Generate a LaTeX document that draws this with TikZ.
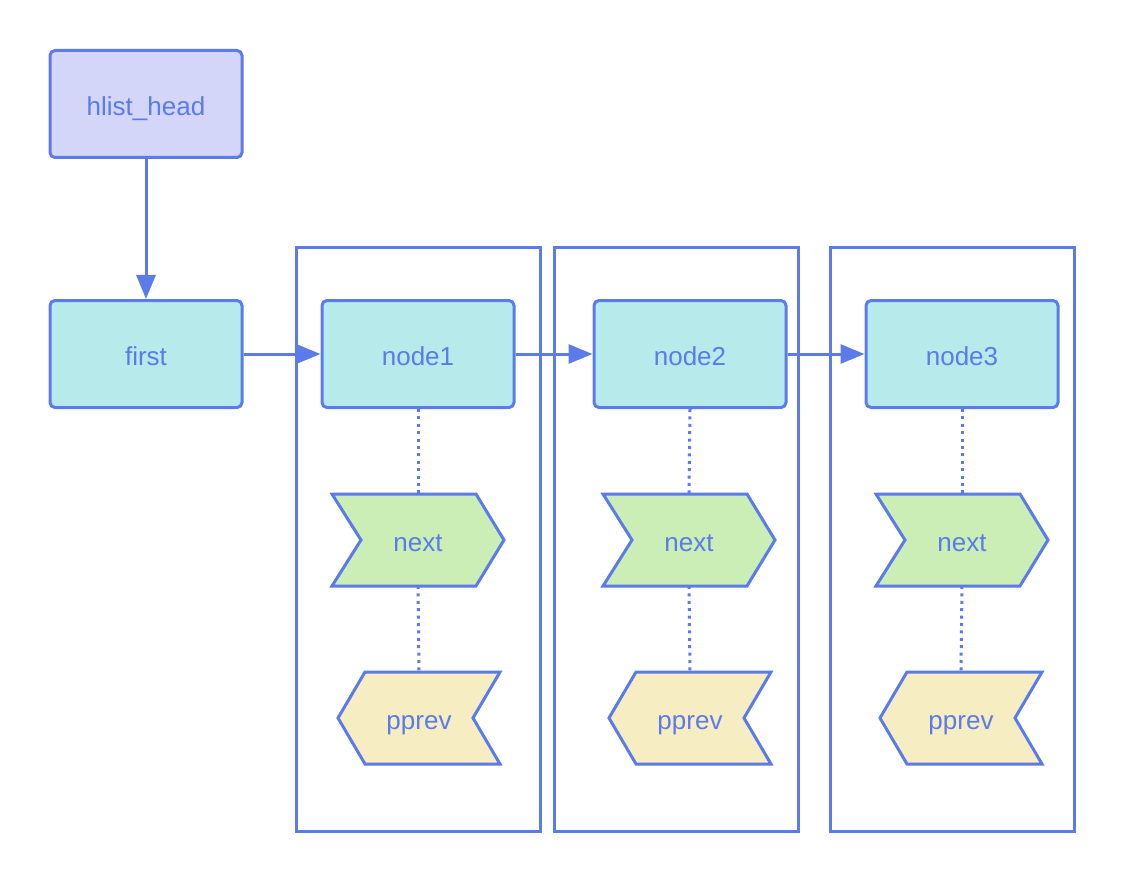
\documentclass[tikz,border=0pt]{standalone}
\usepackage{fontspec}
\setmainfont{Liberation Sans}
\usetikzlibrary{arrows.meta}
\definecolor{strk}{HTML}{5B7BE8}
\definecolor{headfill}{HTML}{D3D6F8}
\definecolor{cyanfill}{HTML}{B6EAEB}
\definecolor{greenfill}{HTML}{CBEDB6}
\definecolor{yellowfill}{HTML}{F6EDC3}
\begin{document}
\begin{tikzpicture}[x=0.5pt,y=-0.5pt,
  every node/.style={text=strk, font=\fontsize{13}{15.6}\selectfont, text height=12pt, text depth=0.5pt},
  box/.style={draw=strk, line width=1.5pt, rounded corners=2.5pt, minimum width=96pt, minimum height=53.5pt, inner sep=0pt},
  container/.style={draw=strk, line width=1.5pt},
  flagshape/.style={draw=strk, line width=1.5pt, line join=miter},
  arr/.style={draw=strk, line width=1.5pt, -{Triangle[length=12pt,width=9.5pt]}},
  dotline/.style={draw=strk, line width=1.5pt, dash pattern=on 1.5pt off 2.2pt}
]
\useasboundingbox (0,0) rectangle (1124,882);

% containers
\draw[container] (296,248) rectangle (540,831);
\draw[container] (554,248) rectangle (798,831);
\draw[container] (830,248) rectangle (1074,831);

% main boxes
\node[box, fill=headfill] (head) at (146,104) {hlist\_head};
\node[box, fill=cyanfill] (first) at (146,354) {first};
\node[box, fill=cyanfill] (n1) at (418,354) {node1};
\node[box, fill=cyanfill] (n2) at (690,354) {node2};
\node[box, fill=cyanfill] (n3) at (962,354) {node3};

% next flags
\foreach \i/\c in {1/418, 2/689, 3/962} {
  \filldraw[flagshape, fill=greenfill] (\c-86,494) -- (\c+58,494) -- (\c+86,540) -- (\c+58,586) -- (\c-86,586) -- (\c-57,540) -- cycle;
  \node (nx\i) at (\c,540) {next};
  \coordinate (nx\i t) at (\c,494);
  \coordinate (nx\i b) at (\c,586);
}
% pprev flags
\foreach \i/\c in {1/419, 2/690, 3/961} {
  \filldraw[flagshape, fill=yellowfill] (\c-54,672) -- (\c+81,672) -- (\c+54,718) -- (\c+81,764) -- (\c-54,764) -- (\c-81,718) -- cycle;
  \node (pv\i) at (\c,718) {pprev};
  \coordinate (pv\i t) at (\c,672);
}

% dotted links
\draw[dotline] (n1.south) -- (nx1t);
\draw[dotline] (n2.south) -- (nx2t);
\draw[dotline] (n3.south) -- (nx3t);
\draw[dotline] (nx1b) -- (pv1t);
\draw[dotline] (nx2b) -- (pv2t);
\draw[dotline] (nx3b) -- (pv3t);

% arrows
\draw[arr] (head) -- (first);
\draw[arr] (first) -- (n1);
\draw[arr] (n1) -- (n2);
\draw[arr] (n2) -- (n3);
\end{tikzpicture}
\end{document}
